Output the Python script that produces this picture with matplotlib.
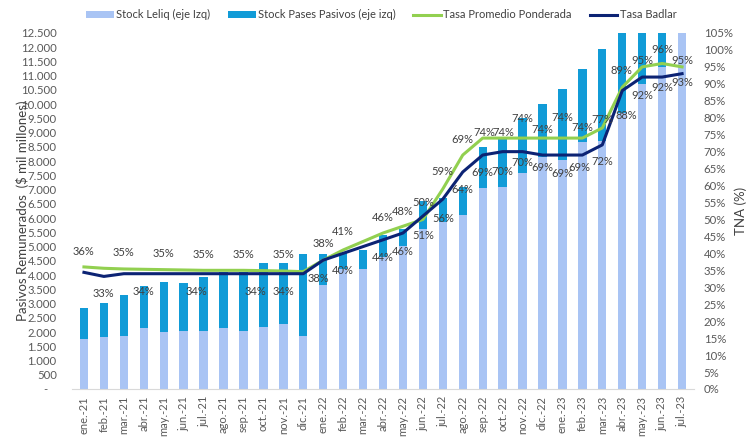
import matplotlib
matplotlib.use("Agg")
import matplotlib.pyplot as plt
from matplotlib.ticker import FuncFormatter, MultipleLocator
from matplotlib.patches import Patch
from matplotlib.lines import Line2D
import numpy as np

# colours
LELIQ_C = "#a9c4f4"
PASES_C = "#119bd7"
GREEN = "#92d050"
NAVY = "#0c2374"
TXT = "#404040"
TICK = "#595959"

meses = ["ene.-21", "feb.-21", "mar.-21", "abr.-21", "may.-21", "jun.-21",
         "jul.-21", "ago.-21", "sep.-21", "oct.-21", "nov.-21", "dic.-21",
         "ene.-22", "feb.-22", "mar.-22", "abr.-22", "may.-22", "jun.-22",
         "jul.-22", "ago.-22", "sep.-22", "oct.-22", "nov.-22", "dic.-22",
         "ene.-23", "feb.-23", "mar.-23", "abr.-23", "may.-23", "jun.-23",
         "jul.-23"]

# $ mil millones
stock_leliq = [1760, 1840, 1860, 2130, 1990, 2050, 2050, 2130, 2050, 2190, 2290, 1860,
               3650, 4220, 4200, 4650, 5020, 5600, 5850, 6100, 7050, 7100, 7570, 8150,
               8040, 8680, 8700, 9700, 10700, 11300, 12800]
stock_pases = [1070, 1170, 1450, 1480, 1750, 1660, 1870, 1980, 2070, 2250, 2150, 2870,
               1080, 550, 690, 750, 580, 1000, 850, 1000, 1450, 1700, 1930, 1850,
               2480, 2570, 3250, 3300, 2800, 2500, 700]

# TNA (%)
tasa_prom = [36, 35.6, 35.4, 35.3, 35.2, 35.1, 35, 35, 35, 34.9, 34.8, 34.6,
             38, 41, 43.5, 46, 48, 50, 59, 69, 74, 74, 74, 74,
             74, 74, 77, 89, 95, 96, 95]
tasa_badlar = [34.4, 33.2, 34, 34, 34, 34, 34, 34, 34, 34, 34, 34,
               38, 40, 42, 44, 46, 51, 56, 64, 69, 70, 70, 69,
               69, 69, 72, 88, 92, 92, 93]

# which points carry a data label, and where it sits (pixels from the point)
prom_lbl = {0: (0, 15), 2: (0, 16), 4: (0, 16), 6: (0, 16), 8: (0, 16), 10: (0, 16),
            12: (0, 17), 13: (0, 18), 15: (0, 16), 16: (0, 15), 17: (0, 17),
            18: (0, 17), 19: (0, 16), 20: (2, 6), 21: (1, 6), 22: (0, 20),
            23: (0, 9), 24: (0, 21), 25: (0, 11), 26: (0, 8), 27: (-1, 17),
            28: (0, 6), 29: (0, 14), 30: (0, 6)}
badlar_lbl = {1: (0, -17), 3: (0, -18), 6: (-7, -18), 9: (-8, -18), 10: (0, -18),
              12: (-5, -18), 13: (0, -17), 15: (0, -18), 16: (0, -18), 17: (0, -19),
              18: (0, -19), 19: (0, -18), 20: (0, -17), 21: (0, -20), 22: (0, -11),
              23: (0, -12), 24: (0, -18), 25: (-3, -12), 26: (0, -17), 27: (4, -25),
              28: (0, -18), 29: (0, -10), 30: (0, -9)}

plt.rcParams.update({
    "font.family": ["Lato", "DejaVu Sans"],
    "font.size": 8,
})

fig = plt.figure(figsize=(7.49, 4.38), dpi=100)
ax = fig.add_axes([0.0961, 0.1119, 0.8305, 0.8128])
x = np.arange(len(meses))
w = 0.42

ax.bar(x, stock_leliq, w, color=LELIQ_C, zorder=2)
ax.bar(x, stock_pases, w, bottom=stock_leliq, color=PASES_C, zorder=2)

ax.set_xlim(-0.6, len(meses) - 0.4)
ax.set_ylim(0, 12500)
ax.yaxis.set_major_locator(MultipleLocator(500))
ax.yaxis.set_major_formatter(FuncFormatter(
    lambda v, p: "-   " if v == 0 else f"{int(v):,}".replace(",", ".")))
ax.set_xticks(x)
ax.set_xticklabels(meses, rotation=90)
ax.tick_params(axis="y", length=0, pad=11, colors=TICK, labelsize=8.2)
ax.tick_params(axis="x", length=0, pad=5, colors=TICK, labelsize=8)
for s in ("top", "right", "left"):
    ax.spines[s].set_visible(False)
ax.spines["bottom"].set_color("#d9d9d9")
ax.set_ylabel("Pasivos Remunerados  ($ mil millones)", fontsize=9.5, color=TXT, labelpad=-6)

ax2 = ax.twinx()
ax2.plot(x, tasa_prom, color=GREEN, lw=2.2, zorder=3)
ax2.plot(x, tasa_badlar, color=NAVY, lw=2.2, zorder=3)
ax2.set_ylim(0, 105)
ax2.yaxis.set_major_locator(MultipleLocator(5))
ax2.yaxis.set_major_formatter(FuncFormatter(lambda v, p: f"{v:.0f}%"))
ax2.tick_params(axis="y", length=0, pad=7, colors=TICK, labelsize=8.2)
for s in ax2.spines.values():
    s.set_visible(False)
ax2.set_ylabel("TNA (%)", fontsize=9.5, color=TXT, labelpad=1)

for i, (dx, dy) in prom_lbl.items():
    ax2.annotate(f"{tasa_prom[i]:.0f}%", (x[i], tasa_prom[i]), xytext=(dx, dy),
                 textcoords="offset pixels", ha="center", va="center",
                 fontsize=8, color=TXT, zorder=5)
for i, (dx, dy) in badlar_lbl.items():
    ax2.annotate(f"{tasa_badlar[i]:.0f}%", (x[i], tasa_badlar[i]), xytext=(dx, dy),
                 textcoords="offset pixels", ha="center", va="center",
                 fontsize=8, color=TXT, zorder=5)

handles = [
    Patch(facecolor=LELIQ_C, label="Stock Leliq (eje Izq)"),
    Patch(facecolor=PASES_C, label="Stock Pases Pasivos (eje izq)"),
    Line2D([0], [0], color=GREEN, lw=2.2, label="Tasa Promedio Ponderada"),
    Line2D([0], [0], color=NAVY, lw=2.2, label="Tasa Badlar"),
]
leg = fig.legend(handles=handles, loc="center", bbox_to_anchor=(0.509, 0.966), ncol=4,
                 frameon=False, fontsize=8, handlelength=2.5, handleheight=0.6,
                 columnspacing=1.6, handletextpad=0.2)
for t in leg.get_texts():
    t.set_color(TXT)

fig.savefig("out.png", dpi=100, facecolor="white")
